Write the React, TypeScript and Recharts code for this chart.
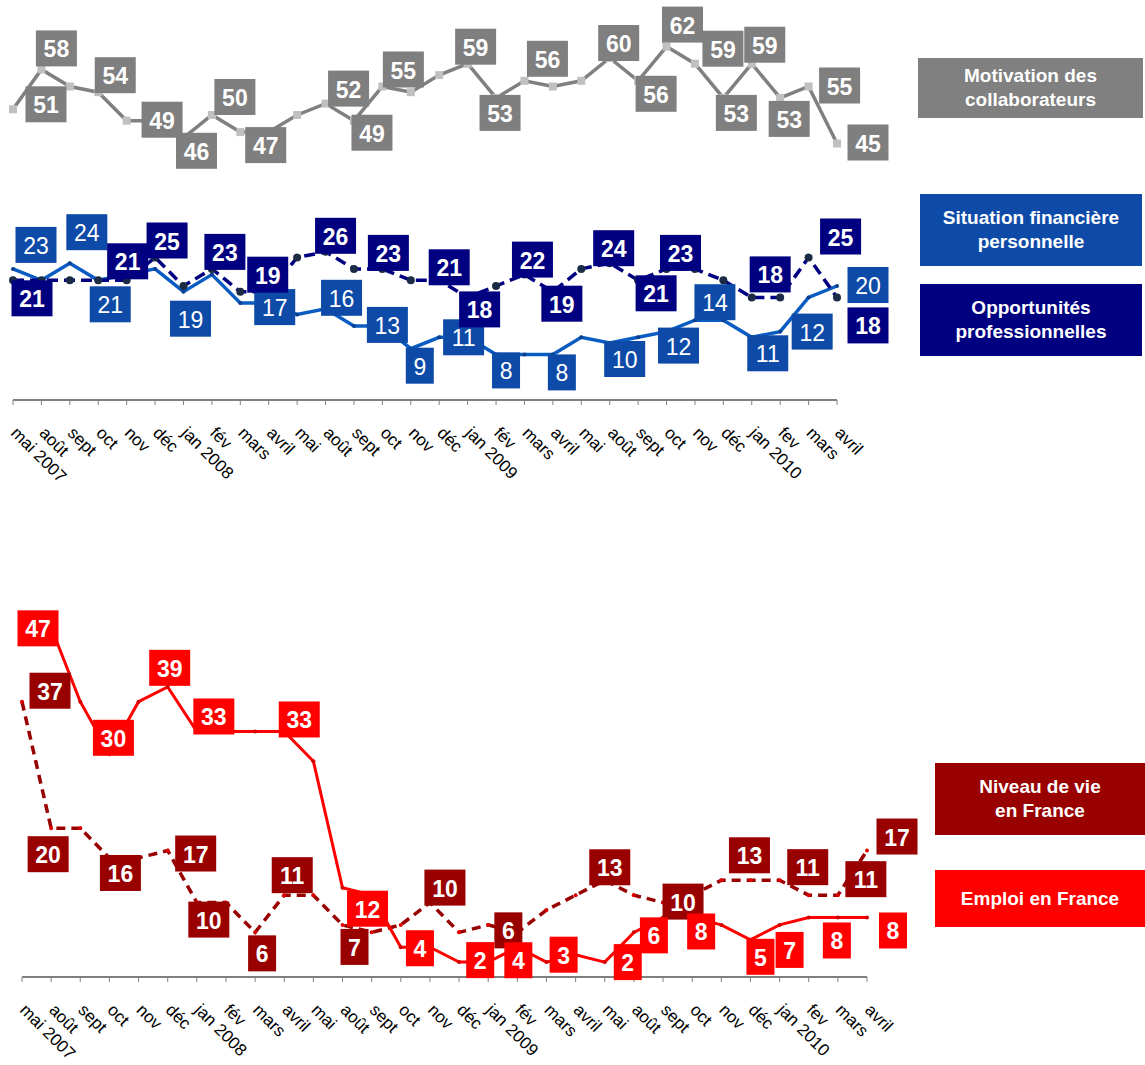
import React from "react";
import { LineChart, Line, XAxis, YAxis } from "recharts";

// mois (même liste pour les deux graphiques)
const months = [
  "mai 2007", "août", "sept", "oct", "nov", "déc", "jan 2008", "fév", "mars", "avril",
  "mai", "août", "sept", "oct", "nov", "déc", "jan 2009", "fév", "mars", "avril",
  "mai", "août", "sept", "oct", "nov", "déc", "jan 2010", "fev", "mars", "avril",
];

// graphique du haut
const motivation = [51, 58, 55, 54, 49, 49, 46, 50, 47, 47, 50, 52, 49, 55, 54, 57, 59, 53, 56, 55, 56, 60, 56, 62, 59, 53, 59, 53, 55, 45];
const situation = [23, 21, 24, 21, 22, 23, 19, 22, 17, 17, 15, 16, 13, 13, 9, 11, 11, 8, 8, 8, 11, 10, 11, 12, 14, 14, 11, 12, 18, 20];
const opportunites = [21, 21, 21, 21, 21, 25, 20, 23, 19, 19, 25, 26, 23, 23, 21, 21, 18, 20, 22, 19, 23, 24, 21, 23, 23, 21, 18, 18, 25, 18];

// graphique du bas
const niveauDeVie = [37, 20, 20, 16, 16, 17, 10, 10, 6, 11, 11, 7, 6, 7, 10, 6, 7, 6, 9, 11, 13, 11, 10, 11, 13, 13, 13, 11, 11, 17];
const emploi = [47, 47, 37, 30, 37, 39, 33, 33, 33, 33, 29, 12, 11, 4, 4, 2, 2, 4, 2, 3, 2, 6, 8, 8, 7, 5, 7, 8, 8, 8];

// étiquettes affichées : index du point -> décalage de la boîte (px)
type Offsets = Record<number, [number, number]>;
const motivationLabels: Offsets = {
  0: [33, -5], 1: [15, -21], 3: [17, -17], 5: [7, -1], 6: [13, 13], 7: [23, -18], 9: [-3, 13],
  11: [23, -15], 12: [18, 12], 13: [21, -17], 16: [8, -17], 17: [4, 15], 18: [23, -22],
  21: [9, -15], 22: [18, 13], 23: [16, -22], 24: [28, -15], 25: [13, 15], 26: [13, -19],
  27: [9, 21], 28: [31, -1], 29: [31, -1],
};
const situationLabels: Offsets = {
  0: [23, -24], 2: [17, -31], 3: [12, 24], 6: [7, 27], 9: [6, 4], 11: [16, -11], 13: [5, -1],
  14: [9, 17], 16: [-4, 0], 17: [10, 16], 19: [9, 18], 21: [15, 16], 23: [12, 14],
  24: [20, -18], 26: [16, 16], 27: [32, 0], 29: [31, -1],
};
const opportunitesLabels: Offsets = {
  0: [19, 18], 4: [1, -19], 5: [12, -17], 7: [13, -17], 9: [-1, -17], 11: [10, -16], 13: [6, -16],
  15: [10, -13], 16: [12, 12], 18: [8, -15], 19: [9, 12], 21: [4, -15], 22: [18, 13],
  23: [14, -16], 27: [-10, -23], 28: [32, -21], 29: [31, 28],
};
const niveauLabels: Offsets = {
  0: [28, -11], 1: [-3, 26], 3: [11, 15], 5: [28, 3], 6: [12, 17], 8: [7, 21], 9: [8, -20],
  11: [12, 22], 14: [15, -15], 17: [-9, -2], 20: [5, -13], 22: [20, -1], 25: [-1, -25],
  27: [-1, -28], 28: [28, -16], 29: [30, -14],
};
const emploiLabels: Offsets = {
  0: [16, 1], 3: [4, -16], 5: [2, -19], 6: [17, -15], 9: [15, -12], 11: [25, 21], 14: [-10, 1],
  16: [-8, -2], 17: [1, 13], 19: [-12, 0], 20: [23, 0], 21: [20, 3], 23: [9, 14], 25: [10, 17],
  26: [10, 25], 28: [-1, 23], 29: [26, 13],
};

const topData = months.map((m, i) => ({
  month: m,
  motivation: motivation[i],
  situation: situation[i],
  opportunites: opportunites[i],
}));
const bottomData = months.map((m, i) => ({
  month: m,
  niveau: niveauDeVie[i],
  emploi: emploi[i],
}));

const FONT = "'Liberation Sans', Arial, sans-serif";
const GRAY = "#808080";
const BLUE_BOX = "#0E4BA8";
const BLUE_LINE = "#0A5CC2";
const NAVY = "#000080";
const DARK_RED = "#990000";
const RED = "#FF0000";

const makeLabel = (offsets: Offsets, fill: string, bold: boolean) => (props: any) => {
  const { x, y, value, index } = props;
  const off = offsets[index];
  if (!off) return <g key={`l${index}`} />;
  const txt = String(value);
  const w = txt.length > 1 ? 41 : 28;
  const h = 36;
  const cx = x + off[0];
  const cy = y + off[1];
  return (
    <g key={`l${index}`}>
      <rect x={cx - w / 2} y={cy - h / 2} width={w} height={h} fill={fill} />
      <text
        x={cx}
        y={cy + 1}
        textAnchor="middle"
        dominantBaseline="central"
        fill="#fff"
        fontSize={23}
        fontWeight={bold ? "bold" : "normal"}
        fontFamily={FONT}
      >
        {txt}
      </text>
    </g>
  );
};

const squareDot = (props: any) => {
  const { cx, cy, index } = props;
  return <rect key={`s${index}`} x={cx - 4} y={cy - 4} width={8} height={8} fill="#C0C0C0" />;
};
const roundDot = (color: string, r: number) => (props: any) => {
  const { cx, cy, index } = props;
  return <circle key={`c${index}`} cx={cx} cy={cy} r={r} fill={color} />;
};

const MonthTick = (props: any) => {
  const { x, y, payload } = props;
  return (
    <text
      transform={`translate(${x - 3},${y + 27}) rotate(45)`}
      textAnchor="start"
      fontSize={17}
      fontFamily={FONT}
      fill="#000"
    >
      {payload.value}
    </text>
  );
};

const LegendBox = ({ left, top, width, height, bg, lines }: any) => (
  <div
    style={{
      position: "absolute",
      left,
      top,
      width,
      height,
      background: bg,
      color: "#fff",
      fontFamily: FONT,
      fontWeight: "bold",
      fontSize: 19,
      lineHeight: "24px",
      display: "flex",
      flexDirection: "column",
      justifyContent: "center",
      alignItems: "center",
      textAlign: "center",
    }}
  >
    {lines.map((l: string) => (
      <div key={l}>{l}</div>
    ))}
  </div>
);

export default function App() {
  return (
    <div style={{ position: "absolute", left: 0, top: 0, width: 1145, height: 1065, background: "#fff", fontFamily: FONT, overflow: "hidden" }}>
      <div style={{ position: "absolute", left: 0, top: 0 }}>
        <LineChart width={1145} height={500} data={topData} margin={{ top: 1, right: 308, left: 13, bottom: 0 }}>
          <YAxis hide domain={[0, 70]} />
          <XAxis
            dataKey="month"
            interval={0}
            height={100}
            tickSize={5}
            axisLine={{ stroke: GRAY, strokeWidth: 2 }}
            tickLine={{ stroke: GRAY }}
            tick={<MonthTick />}
          />
          <Line dataKey="motivation" stroke={GRAY} strokeWidth={3.5} dot={squareDot} activeDot={false} isAnimationActive={false} />
          <Line dataKey="situation" stroke={BLUE_LINE} strokeWidth={3.5} dot={roundDot("#0A3F8F", 2)} activeDot={false} isAnimationActive={false} />
          <Line dataKey="opportunites" stroke={NAVY} strokeWidth={3.5} strokeDasharray="11 6" dot={roundDot("#1C2B45", 4)} activeDot={false} isAnimationActive={false} />
          <Line dataKey="motivation" stroke="none" dot={false} activeDot={false} isAnimationActive={false} label={makeLabel(motivationLabels, "#7F7F7F", true)} />
          <Line dataKey="situation" stroke="none" dot={false} activeDot={false} isAnimationActive={false} label={makeLabel(situationLabels, BLUE_BOX, false)} />
          <Line dataKey="opportunites" stroke="none" dot={false} activeDot={false} isAnimationActive={false} label={makeLabel(opportunitesLabels, NAVY, true)} />
        </LineChart>
      </div>

      <div style={{ position: "absolute", left: 0, top: 600 }}>
        <LineChart width={1145} height={465} data={bottomData} margin={{ top: 5, right: 278, left: 22, bottom: 0 }}>
          <YAxis hide domain={[0, 50]} />
          <XAxis
            dataKey="month"
            interval={0}
            height={88}
            tickSize={5}
            axisLine={{ stroke: GRAY, strokeWidth: 2 }}
            tickLine={{ stroke: GRAY }}
            tick={<MonthTick />}
          />
          <Line dataKey="niveau" stroke={DARK_RED} strokeWidth={3.5} strokeDasharray="9 6" dot={roundDot("#E00000", 2)} activeDot={false} isAnimationActive={false} />
          <Line dataKey="emploi" stroke={RED} strokeWidth={3} dot={roundDot("#D00000", 2)} activeDot={false} isAnimationActive={false} />
          <Line dataKey="niveau" stroke="none" dot={false} activeDot={false} isAnimationActive={false} label={makeLabel(niveauLabels, DARK_RED, true)} />
          <Line dataKey="emploi" stroke="none" dot={false} activeDot={false} isAnimationActive={false} label={makeLabel(emploiLabels, RED, true)} />
        </LineChart>
      </div>

      <LegendBox left={918} top={58} width={225} height={60} bg={GRAY} lines={["Motivation des", "collaborateurs"]} />
      <LegendBox left={920} top={194} width={222} height={72} bg={BLUE_BOX} lines={["Situation financière", "personnelle"]} />
      <LegendBox left={920} top={284} width={222} height={72} bg={NAVY} lines={["Opportunités", "professionnelles"]} />
      <LegendBox left={935} top={763} width={210} height={72} bg={DARK_RED} lines={["Niveau de vie", "en France"]} />
      <LegendBox left={935} top={870} width={210} height={57} bg={RED} lines={["Emploi en France"]} />
    </div>
  );
}
